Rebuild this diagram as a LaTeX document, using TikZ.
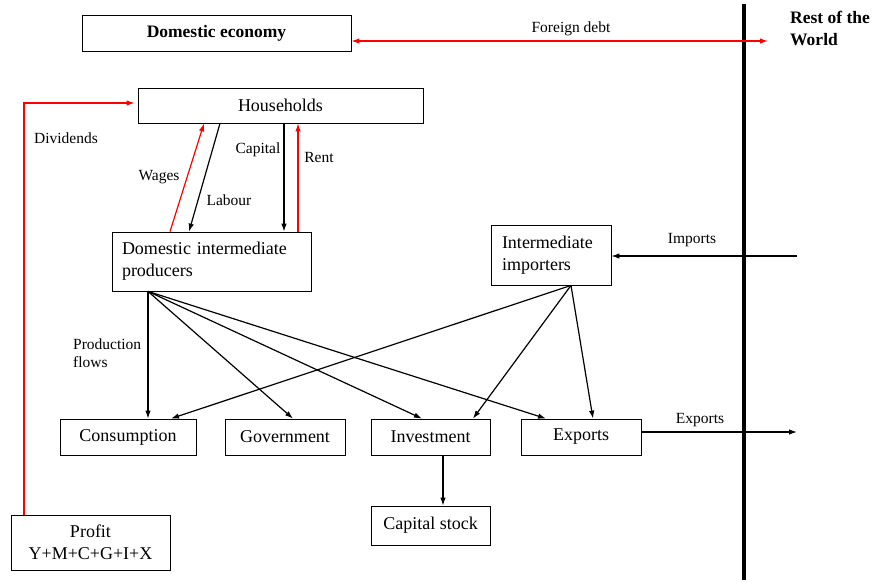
\documentclass[tikz,border=0pt]{standalone}
\usepackage{fontspec}
\setmainfont{Liberation Serif}
\usetikzlibrary{arrows.meta}
\tikzset{
  box/.style={draw,inner sep=0pt,line width=.8pt,font=\fontsize{18}{22}\selectfont},
  lbl/.style={inner sep=0pt,font=\fontsize{15.5}{18}\selectfont},
  flow/.style={-{Latex[length=8pt,width=5.5pt]},line width=1.2pt},
  money/.style={flow,red},
}
\begin{document}
\begin{tikzpicture}[x=1pt,y=-1pt]
  \useasboundingbox (0,0) rectangle (876,584);
  % boxes
  \node[box,minimum width=269pt,minimum height=36pt,font=\fontsize{17.5}{22}\selectfont\bfseries] (dom) at (216.5,33) {Domestic economy};
  \node[box,minimum width=285pt,minimum height=35pt] (hh) at (280.5,105.5) {Households};
  \node[box,minimum width=199pt,minimum height=59pt,text width=179pt,align=left] (prod) at (211.5,261.5) {Domestic intermediate\\producers};
  \node[box,minimum width=120pt,minimum height=60pt,text width=98pt,align=left] (imp) at (551,255) {Intermediate\\importers};
  \node[box,minimum width=136pt,minimum height=36pt] (cons) at (128,437) {Consumption};
  \node[box,minimum width=120pt,minimum height=36pt] (gov) at (285,437) {Government};
  \node[box,minimum width=119pt,minimum height=36pt] (inv) at (430.5,437) {Investment};
  \node[box,minimum width=120pt,minimum height=36pt] (exp) at (581,437) {Exports};
  \node[box,minimum width=119pt,minimum height=39pt] (cap) at (430.5,525.5) {Capital stock};
  \node[box,minimum width=159pt,minimum height=55pt,align=center] (profit) at (90.5,542.5) {Profit\\Y+M+C+G+I+X};
  \node[anchor=north west,inner sep=0pt,align=left,font=\fontsize{17.5}{22}\selectfont\bfseries] (row) at (790,11) {Rest of the\\World};
  % border
  \coordinate (btop) at (744,4);
  \coordinate (bbot) at (744,580);
  \draw[line width=4pt] (btop) -- (bbot);
  % foreign flows
  \coordinate (fdend) at (768,41);
  \draw[money,{Latex[length=8pt,width=5.5pt]}-{Latex[length=8pt,width=5.5pt]}] ([yshift=-8pt]dom.east) -- (fdend);
  \node[lbl] (fdlbl) at (571,29) {Foreign debt};
  \coordinate (impsrc) at (797,256);
  \draw[flow] (impsrc) -- (imp.east |- impsrc);
  \node[lbl] (implbl) at (692,240) {Imports};
  \coordinate (expend) at (797,432);
  \draw[flow] (exp.east |- expend) -- (expend);
  \node[lbl] (explbl) at (700,420) {Exports};
  % households and producers
  \coordinate (divsrc) at (24,515);
  \draw[money] (divsrc) |- ([xshift=-3pt,yshift=2.5pt]hh.west);
  \node[lbl] (divlbl) at (66,138) {Dividends};
  \draw[money] ([xshift=-41.5pt]prod.north) -- ([xshift=-76.5pt]hh.south);
  \node[lbl] (wagelbl) at (159,177) {Wages};
  \draw[flow] ([xshift=-60.5pt]hh.south) -- ([xshift=-22.5pt]prod.north);
  \node[lbl] (lablbl) at (229,200) {Labour};
  \draw[flow] ([xshift=3.5pt]hh.south) -- ([xshift=72.5pt]prod.north);
  \node[lbl] (caplbl) at (258,150) {Capital};
  \draw[money] ([xshift=86.5pt]prod.north) -- ([xshift=17.5pt]hh.south);
  \node[lbl] (rentlbl) at (319,157) {Rent};
  % production flows
  \coordinate (pf) at ([xshift=-63.5pt]prod.south);
  \draw[flow] (pf) -- ([xshift=20pt]cons.north);
  \draw[flow] (pf) -- ([xshift=8pt]gov.north);
  \draw[flow] (pf) -- ([xshift=-8.5pt]inv.north);
  \draw[flow] (pf) -- ([xshift=-35pt]exp.north);
  \node[lbl,anchor=west,align=left] (pflbl) at (73,353) {Production\\flows};
  \coordinate (mf) at ([xshift=20pt]imp.south);
  \draw[flow] (mf) -- ([xshift=43pt]cons.north);
  \draw[flow] (mf) -- ([xshift=42.5pt]inv.north);
  \draw[flow] (mf) -- ([xshift=12pt]exp.north);
  \draw[flow] ([xshift=12.5pt]inv.south) -- ([xshift=12.5pt]cap.north);
\end{tikzpicture}
\end{document}
